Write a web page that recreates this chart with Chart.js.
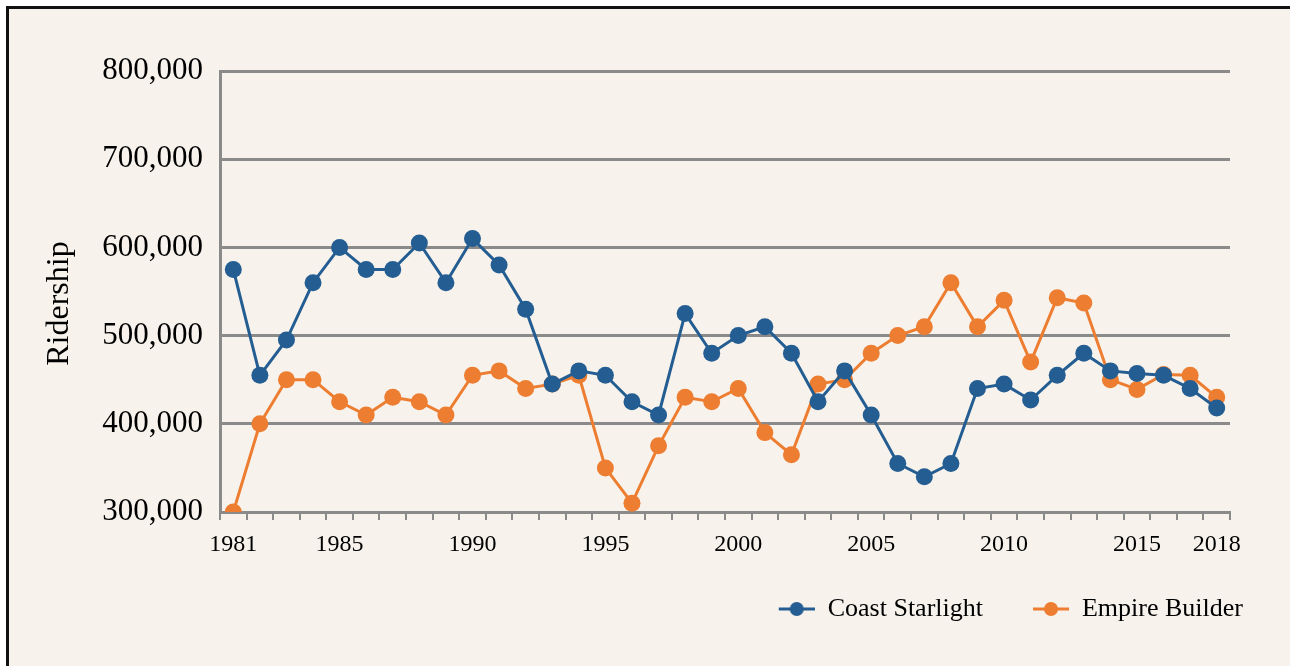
<!DOCTYPE html>
<html lang="en">
<head>
    <meta charset="UTF-8">
    <title>Ridership</title>
    <script src="https://cdn.jsdelivr.net/npm/chart.js"></script>
    <style>
        html, body { margin: 0; padding: 0; background: #f7f3ec; overflow: hidden; }
        #frame { position: absolute; left: 6px; top: 6px; width: 1500px; height: 900px; border-top: 3px solid #111; border-left: 3px solid #111; background: #f7f3ec; }
        #outside { position: absolute; left: 0; top: 0; width: 1500px; height: 6px; background: #fff; }
        #outsideL { position: absolute; left: 0; top: 0; width: 6px; height: 900px; background: #fff; }
        #wrap { position: absolute; left: 0; top: 0; width: 1290px; height: 666px; }
    </style>
</head>
<body>
    <div id="outside"></div>
    <div id="outsideL"></div>
    <div id="frame"></div>
    <div id="wrap"><canvas id="rideChart"></canvas></div>

    <script>
        // data
        const years = [1981, 1982, 1983, 1984, 1985, 1986, 1987, 1988, 1989, 1990,
                       1991, 1992, 1993, 1994, 1995, 1996, 1997, 1998, 1999, 2000,
                       2001, 2002, 2003, 2004, 2005, 2006, 2007, 2008, 2009, 2010,
                       2011, 2012, 2013, 2014, 2015, 2016, 2017, 2018];
        const coastStarlight = [575000, 455000, 495000, 560000, 600000, 575000, 575000, 605000, 560000, 610000,
                                580000, 530000, 445000, 460000, 455000, 425000, 410000, 525000, 480000, 500000,
                                510000, 480000, 425000, 460000, 410000, 355000, 340000, 355000, 440000, 445000,
                                427000, 455000, 480000, 460000, 457000, 455000, 440000, 418000];
        const empireBuilder = [300000, 400000, 450000, 450000, 425000, 410000, 430000, 425000, 410000, 455000,
                               460000, 440000, 445000, 455000, 350000, 310000, 375000, 430000, 425000, 440000,
                               390000, 365000, 445000, 450000, 480000, 500000, 510000, 560000, 510000, 540000,
                               470000, 543000, 537000, 450000, 439000, 456000, 455000, 430000];
        const labeledYears = [1981, 1985, 1990, 1995, 2000, 2005, 2010, 2015, 2018];

        const BLUE = '#245d92';
        const ORANGE = '#ed7d31';
        const GRID = '#8a8a8a';
        const FONT = "'Liberation Serif', 'Times New Roman', serif";

        // line + dot legend marker; the left 18px stay empty to widen the gap between items
        function legendMarker(color) {
            const c = document.createElement('canvas');
            c.width = 54; c.height = 16;
            const g = c.getContext('2d');
            g.strokeStyle = color;
            g.lineWidth = 3;
            g.beginPath(); g.moveTo(18, 8); g.lineTo(54, 8); g.stroke();
            g.fillStyle = color;
            g.beginPath(); g.arc(36, 8, 7, 0, Math.PI * 2); g.fill();
            return c;
        }

        const ctx = document.getElementById('rideChart').getContext('2d');
        const rideChart = new Chart(ctx, {
            type: 'line',
            data: {
                labels: years,
                datasets: [{
                    label: 'Coast Starlight',
                    data: coastStarlight,
                    borderColor: BLUE,
                    backgroundColor: BLUE,
                    borderWidth: 3,
                    pointRadius: 8.5,
                    pointBorderWidth: 0,
                    pointHoverRadius: 8.5,
                    tension: 0
                }, {
                    label: 'Empire Builder',
                    data: empireBuilder,
                    borderColor: ORANGE,
                    backgroundColor: ORANGE,
                    borderWidth: 3,
                    pointRadius: 8.5,
                    pointBorderWidth: 0,
                    pointHoverRadius: 8.5,
                    tension: 0
                }]
            },
            options: {
                responsive: true,
                maintainAspectRatio: false,
                animation: false,
                layout: { padding: { top: 71, left: 0, right: 15, bottom: 34 } },
                plugins: {
                    tooltip: { enabled: false },
                    legend: {
                        position: 'bottom',
                        align: 'end',
                        labels: {
                            color: '#000',
                            font: { family: FONT, size: 26 },
                            usePointStyle: true,
                            pointStyleWidth: 54,
                            boxHeight: 16,
                            padding: 32,
                            generateLabels(chart) {
                                return chart.data.datasets.map((ds, i) => ({
                                    text: ds.label,
                                    fillStyle: ds.borderColor,
                                    strokeStyle: ds.borderColor,
                                    lineWidth: 0,
                                    pointStyle: legendMarker(ds.borderColor),
                                    hidden: false,
                                    datasetIndex: i,
                                    fontColor: '#000'
                                }));
                            }
                        }
                    }
                },
                scales: {
                    x: {
                        offset: true,
                        grid: {
                            offset: true,
                            drawOnChartArea: false,
                            drawTicks: true,
                            tickLength: 8,
                            color: GRID,
                            lineWidth: 2
                        },
                        border: { color: GRID, width: 3 },
                        ticks: {
                            autoSkip: false,
                            maxRotation: 0,
                            padding: 10,
                            color: '#000',
                            font: { family: FONT, size: 24 },
                            callback: function (value) {
                                const lab = this.getLabelForValue(value);
                                return labeledYears.includes(+lab) ? String(lab) : '';
                            }
                        },
                        afterFit: s => { s.height = 52; }
                    },
                    y: {
                        min: 300000,
                        max: 800000,
                        grid: { color: GRID, lineWidth: 3, drawTicks: false },
                        border: { color: GRID, width: 3 },
                        ticks: {
                            stepSize: 100000,
                            padding: 17,
                            color: '#000',
                            font: { family: FONT, size: 31 },
                            callback: v => v.toLocaleString('en-US')
                        },
                        title: {
                            display: true,
                            text: 'Ridership   ',
                            color: '#000',
                            font: { family: FONT, size: 32 },
                            padding: { top: 40, bottom: 0 }
                        },
                        afterFit: s => { s.width = 220; }
                    },
                    // empty right-hand axis, only keeps the plot off the right edge
                    yRight: {
                        position: 'right',
                        display: true,
                        grid: { display: false },
                        border: { display: false },
                        ticks: { display: false },
                        afterFit: s => { s.width = 45; }
                    }
                }
            }
        });
    </script>
</body>
</html>
